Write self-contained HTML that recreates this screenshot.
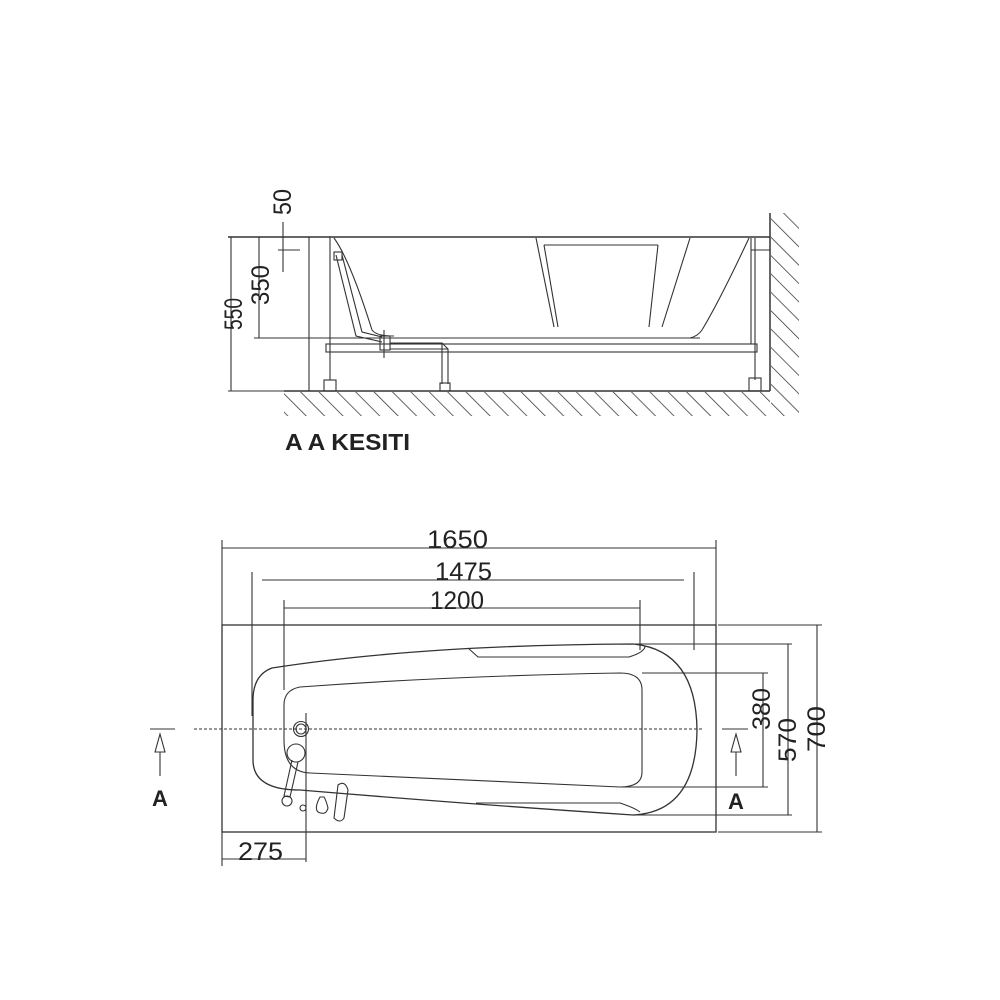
<!DOCTYPE html>
<html><head><style>
html,body{margin:0;padding:0;background:#fff;width:1000px;height:1000px;overflow:hidden}
svg text{font-family:"Liberation Sans",Arial,sans-serif;fill:#222}
</style></head><body>
<svg width="1000" height="1000" viewBox="0 0 1000 1000" xmlns="http://www.w3.org/2000/svg">
<defs>
<pattern id="h" width="13" height="13" patternUnits="userSpaceOnUse" patternTransform="rotate(-45)">
<line x1="0" y1="0" x2="0" y2="13" stroke="#333" stroke-width="1.5"/>
</pattern>
</defs>
<g fill="none" stroke="#333" stroke-width="1.1">
<rect x="284" y="392" width="486" height="24" fill="url(#h)" stroke="none"/>
<rect x="771" y="213" width="28" height="203" fill="url(#h)" stroke="none"/>
<line x1="284" y1="391" x2="770" y2="391" stroke-width="1.5"/>
<line x1="770" y1="213" x2="770" y2="391" stroke-width="1.5"/>
<line x1="228" y1="237" x2="770" y2="237" stroke-width="1.5"/>
<line x1="278" y1="250" x2="300" y2="250"/>
<line x1="751" y1="250" x2="770" y2="250"/>
<line x1="254" y1="338" x2="700" y2="338"/>
<line x1="309" y1="237" x2="309" y2="391"/>
<line x1="330" y1="237" x2="330" y2="380"/>
<line x1="751" y1="238" x2="751" y2="344"/>
<line x1="755" y1="238" x2="755" y2="380"/>
<path d="M334 238 Q350 260 372 330 Q376 336 394 336"/>
<path d="M749 238 Q720 300 702 330 Q698 336 690 338"/>
<path d="M536 238 L554 327 M544 245 L558 327 M544 245 L658 245 M690 238 L662 327 M658 245 L649 327"/>
<rect x="326" y="344" width="431" height="8"/>
<rect x="324" y="380" width="12" height="11"/>
<rect x="749" y="378" width="12" height="13"/>
<path d="M336 255 L356 336 L382 342 M342 255 L362 332 L382 337"/>
<rect x="334" y="252" width="8" height="8"/>
<rect x="380" y="336" width="10" height="14"/>
<line x1="384" y1="330" x2="384" y2="358"/>
<path d="M390 343 L442 343 L442 384 M390 349 L448 349 L448 384 M442 343 L448 349"/>
<rect x="440" y="383" width="10" height="8"/>
<line x1="231" y1="237" x2="231" y2="391"/>
<line x1="228" y1="391" x2="308" y2="391"/>
<line x1="259" y1="237" x2="259" y2="338"/>
<line x1="283" y1="222" x2="283" y2="272"/>
<rect x="222" y="625" width="494" height="207" stroke-width="1.3"/>
<line x1="222" y1="540" x2="222" y2="625"/>
<line x1="716" y1="540" x2="716" y2="625"/>
<line x1="222" y1="548" x2="716" y2="548"/>
<line x1="252" y1="572" x2="252" y2="716"/>
<line x1="694" y1="572" x2="694" y2="650"/>
<line x1="262" y1="580" x2="684" y2="580"/>
<line x1="284" y1="600" x2="284" y2="690"/>
<line x1="640" y1="600" x2="640" y2="650"/>
<line x1="284" y1="608" x2="640" y2="608"/>
<path d="M633 644 Q696 650 697 730 Q696 812 633 815 Q480 805 300 790 Q253 790 253 760 L253 700 Q253 675 272 668 Q420 645 633 644 Z" stroke-width="1.3"/>
<path d="M620 673 Q642 673 642 690 L642 772 Q642 787 620 787 Q450 780 310 773 Q284 772 284 740 L284 705 Q284 690 300 687 Q450 676 620 673 Z"/>
<path d="M468 648 L478 657 L629 657 Q645 652 645 646"/>
<path d="M476 803 L620 803 Q635 808 640 812"/>
<line x1="642" y1="673" x2="768" y2="673"/>
<line x1="620" y1="787" x2="768" y2="787"/>
<line x1="633" y1="644" x2="792" y2="644"/>
<line x1="633" y1="815" x2="792" y2="815"/>
<line x1="718" y1="625" x2="822" y2="625"/>
<line x1="718" y1="832" x2="822" y2="832"/>
<line x1="763" y1="673" x2="763" y2="787"/>
<line x1="788" y1="644" x2="788" y2="815"/>
<line x1="817" y1="625" x2="817" y2="832"/>
<line x1="222" y1="832" x2="222" y2="866"/>
<line x1="306" y1="713" x2="306" y2="862"/>
<line x1="222" y1="859" x2="306" y2="859"/>
<line x1="194" y1="729" x2="703" y2="729" stroke-dasharray="3 2"/>
<circle cx="301" cy="729" r="7.5"/>
<circle cx="301" cy="729" r="5"/>
<circle cx="296" cy="753" r="9"/>
<path d="M292 760 L284 796 L290 797 L298 762"/>
<circle cx="287" cy="801" r="5"/>
<circle cx="303" cy="808" r="3"/>
<path d="M320 797 Q314 808 318 812 Q326 816 328 808 Q326 800 324 797 Z"/>
<path d="M338 785 Q345 780 348 790 L344 818 Q340 824 334 818 Z"/>
<line x1="150" y1="729" x2="175" y2="729"/>
<path d="M155 752 L160 734 L165 752 Z"/>
<line x1="160" y1="752" x2="160" y2="776"/>
<line x1="722" y1="729" x2="748" y2="729"/>
<path d="M731 752 L736 734 L741 752 Z"/>
<line x1="736" y1="752" x2="736" y2="776"/>
</g>
<g font-size="25">
<text x="427" y="548" textLength="61" lengthAdjust="spacingAndGlyphs">1650</text>
<text x="435" y="580" textLength="57" lengthAdjust="spacingAndGlyphs">1475</text>
<text x="430" y="609" textLength="54" lengthAdjust="spacingAndGlyphs">1200</text>
<text x="238" y="860" textLength="45" lengthAdjust="spacingAndGlyphs">275</text>
<text transform="translate(770,730) rotate(-90)" textLength="42" lengthAdjust="spacingAndGlyphs">380</text>
<text transform="translate(796,762) rotate(-90)" textLength="44" lengthAdjust="spacingAndGlyphs">570</text>
<text transform="translate(825,752) rotate(-90)" textLength="46" lengthAdjust="spacingAndGlyphs">700</text>
<text transform="translate(242,330) rotate(-90)" textLength="32" lengthAdjust="spacingAndGlyphs">550</text>
<text transform="translate(269,305) rotate(-90)" textLength="40" lengthAdjust="spacingAndGlyphs">350</text>
<text transform="translate(291,215) rotate(-90)" textLength="26" lengthAdjust="spacingAndGlyphs">50</text>
</g>
<text x="285" y="450" font-size="23" font-weight="bold" textLength="125" lengthAdjust="spacingAndGlyphs">A A KESITI</text>
<text x="160" y="806" font-size="22" font-weight="bold" text-anchor="middle">A</text>
<text x="736" y="809" font-size="22" font-weight="bold" text-anchor="middle">A</text>
</svg>
</body></html>
